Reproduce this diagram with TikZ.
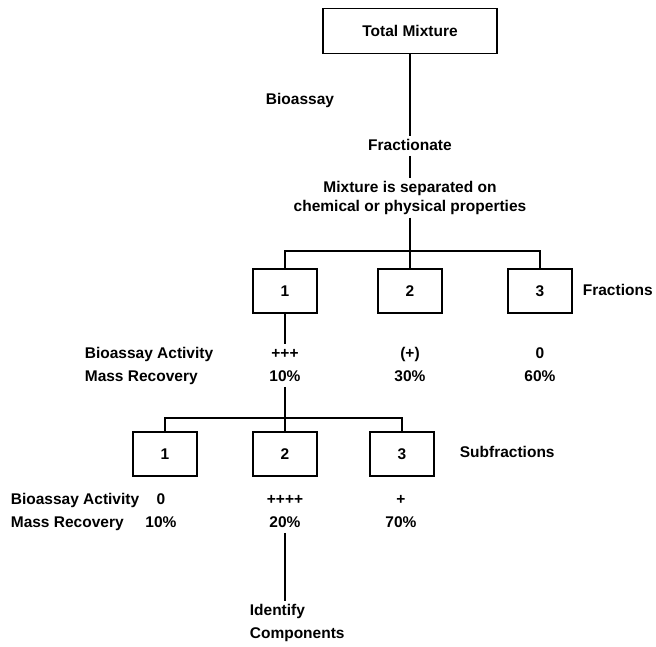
\documentclass[tikz,border=0pt]{standalone}
\usepackage{fontspec}
\setmainfont{Liberation Sans}
\usetikzlibrary{shapes}
\tikzset{
	bigbox/.style   = {draw, rectangle, minimum height = 45pt,
		minimum width = 174pt},
	fracbox/.style  = {draw, rectangle, minimum height = 44pt,
		minimum width = 64pt},
	txt/.style      = {inner sep = 2pt, text height = 11pt, text depth = 3pt},
	lbl/.style      = {txt, anchor = west}, % row label
	split/.style    = {coordinate} % branch point
}
\newcommand{\boldtxt}{\fontsize{15.5}{19}\selectfont\bfseries}

\begin{document}
\begin{tikzpicture}[x=1pt, y=-1pt, line width=1.7pt, font=\boldtxt]
	\useasboundingbox (0,0) rectangle (656,646);
	\draw
	% Drawing the top of the scheme
	node at (410,31) [bigbox] (total) {Total Mixture}
	node at (300,100) [txt] (bio) {Bioassay}
	node at (410,146) [txt] (fract) {Fractionate}
	node at (410,198) [align=center, inner sep=2pt] (mix) {Mixture is separated on\\chemical or physical properties}
	node at (410,251) [split] (split1) {}
	;
	
	\draw
	% Drawing the fractions
	node at (285,291) [fracbox] (f1) {1}
	node at (410,291) [fracbox] (f2) {2}
	node at (540,291) [fracbox] (f3) {3}
	node at (580,291) [lbl] (fr) {Fractions}
	node at (82,354) [lbl] (act) {Bioassay Activity}
	node at (82,377) [lbl] (rec) {Mass Recovery}
	node at (285,354) [txt] (act1) {+++}
	node at (285,377) [txt] (rec1) {10\%}
	node at (410,354) [txt] (act2) {(+)}
	node at (410,377) [txt] (rec2) {30\%}
	node at (540,354) [txt] (act3) {0}
	node at (540,377) [txt] (rec3) {60\%}
	node at (285,418) [split] (split2) {}
	;
	
	\draw
	% Drawing the subfractions
	node at (165,454) [fracbox] (s1) {1}
	node at (285,454) [fracbox] (s2) {2}
	node at (402,454) [fracbox] (s3) {3}
	node at (457,453) [lbl] (sfr) {Subfractions}
	node at (8,500) [lbl] (sact) {Bioassay Activity}
	node at (8,523) [lbl] (srec) {Mass Recovery}
	node at (161,500) [txt] (sact1) {0}
	node at (161,523) [txt] (srec1) {10\%}
	node at (285,500) [txt] (sact2) {++++}
	node at (285,523) [txt] (srec2) {20\%}
	node at (401,500) [txt] (sact3) {+}
	node at (401,523) [txt] (srec3) {70\%}
	node at (247,623) [anchor=west, align=left, inner sep=2pt,
		font=\fontsize{15.5}{23}\selectfont\bfseries] (ident) {Identify\\Components}
	;
	
	\draw[-](total) -- (fract);
	\draw[-](fract) -- (mix);
	\draw[-](mix) -- (split1);
	\draw[-](f1) |- (split1) -| (f3);
	\draw[-](split1) -- (f2);
	\draw[-](f1) -- (act1);
	\draw[-](rec1) -- (split2);
	\draw[-](s1) |- (split2) -| (s3);
	\draw[-](split2) -- (s2);
	\draw[-](srec2) -- (srec2 |- ident.north);
\end{tikzpicture}
\end{document}
